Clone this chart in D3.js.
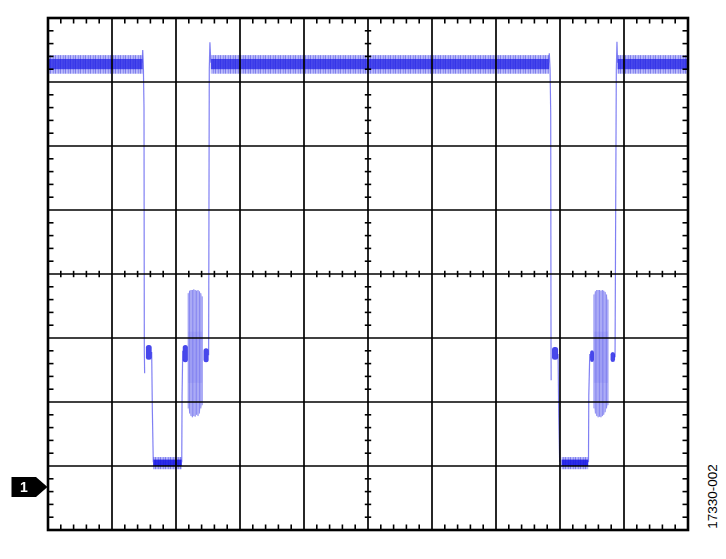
<!DOCTYPE html>
<html><head><meta charset="utf-8">
<script src="https://cdn.jsdelivr.net/npm/d3@7"></script>
<style>html,body{margin:0;padding:0;background:#fff}svg{display:block}</style>
</head><body>
<svg id="c" width="726" height="559"></svg>
<script>
// ---- screen (divisions) ----
const xDivs = [0,1,2,3,4,5,6,7,8,9,10];
const yDivs = [-4,-3,-2,-1,0,1,2,3,4];
const channelLabel = "1";
const groundLevel = -3.33;
const figureId = "17330-002";

// ---- waveform (time in div, voltage in div from centre) ----
const highSegments = [[0, 1.48], [2.545, 7.83], [8.9, 10]];
const highBand = [3.13, 3.2, 3.36, 3.42];       // outer lo, core lo, core hi, outer hi
const lowSegments = [[1.645, 2.09], [8.025, 8.44]];
const lowBand = [-3.05, -3.0, -2.9, -2.86];

// thin edge traces
const edgeTraces = [
  [[1.47,3.3],[1.48,3.5],[1.49,3.25],[1.5,2.6],[1.505,-1.2],[1.51,-1.55]],
  [[1.62,-1.22],[1.63,-2.1],[1.645,-2.94]],
  [[2.09,-2.94],[2.095,-1.9],[2.105,-1.2]],
  [[2.51,-1.27],[2.515,1.0],[2.52,3.2],[2.53,3.62],[2.545,3.3]],
  [[7.82,3.3],[7.833,3.45],[7.845,3.2],[7.855,2.5],[7.86,-1.2],[7.862,-1.66]],
  [[7.97,-1.25],[7.98,-2.2],[7.995,-2.94]],
  [[8.445,-2.94],[8.45,-1.9],[8.465,-1.25]],
  [[8.86,-1.3],[8.87,1.0],[8.88,3.2],[8.89,3.63],[8.9,3.3]]
];

// dense blobs at the intermediate level: [t0, t1, vLow, vHigh]
const midBlobs = [
  [1.53, 1.62, -1.34, -1.11],
  [2.105, 2.185, -1.38, -1.11],
  [2.43, 2.51, -1.38, -1.16],
  [7.875, 7.97, -1.34, -1.14],
  [8.47, 8.53, -1.375, -1.19],
  [8.79, 8.86, -1.375, -1.22]
];

// oscillation bursts: line positions, tops and bottoms
const burst1T   = [2.19, 2.212, 2.234, 2.256, 2.278, 2.3, 2.322, 2.344, 2.366, 2.388, 2.41];
const burst1Top = [-0.3, -0.26, -0.25, -0.25, -0.24, -0.25, -0.26, -0.25, -0.27, -0.3, -0.35];
const burst1Bot = [-2.1, -2.18, -2.22, -2.24, -2.22, -2.23, -2.2, -2.22, -2.18, -2.1, -2.05];
const burst2T   = [8.53, 8.552, 8.574, 8.596, 8.618, 8.64, 8.662, 8.684, 8.706, 8.728, 8.75];
const burst2Top = [-0.32, -0.27, -0.25, -0.25, -0.25, -0.26, -0.25, -0.26, -0.28, -0.32, -0.4];
const burst2Bot = [-2.1, -2.18, -2.22, -2.24, -2.23, -2.24, -2.22, -2.2, -2.16, -2.1, -2.05];

// ---- drawing ----
const svg = d3.select("#c");
const x = d3.scaleLinear().domain([0, 10]).range([48, 688]);
const y = d3.scaleLinear().domain([-4, 4]).range([530, 18]);
const blue = "#1c1ce6";

const defs = svg.append("defs");
defs.append("filter").attr("id","soft").attr("x","-5%").attr("y","-5%").attr("width","110%").attr("height","110%")
  .append("feGaussianBlur").attr("stdDeviation",0.55);
const pat = defs.append("pattern").attr("id","stripe").attr("patternUnits","userSpaceOnUse")
  .attr("width",5).attr("height",3);
pat.append("rect").attr("x",0).attr("y",0).attr("width",0.8).attr("height",3).attr("fill","#1010d8").attr("opacity",0.5);
pat.append("rect").attr("x",1.8).attr("y",0).attr("width",0.6).attr("height",3).attr("fill","#3030ff").attr("opacity",0.35);
pat.append("rect").attr("x",3.3).attr("y",0).attr("width",0.9).attr("height",3).attr("fill","#1818e0").attr("opacity",0.45);

const wave = svg.append("g").attr("filter","url(#soft)");

function band(segs, b, coreOp){
  const g = wave.append("g");
  segs.forEach(s=>{
    g.append("rect").attr("x",x(s[0])).attr("width",x(s[1])-x(s[0]))
      .attr("y",y(b[3])).attr("height",y(b[0])-y(b[3])).attr("fill","#8c8cf4").attr("opacity",0.5);
    g.append("rect").attr("x",x(s[0])).attr("width",x(s[1])-x(s[0]))
      .attr("y",y(b[3])).attr("height",y(b[0])-y(b[3])).attr("fill","url(#stripe)");
    g.append("rect").attr("x",x(s[0])).attr("width",x(s[1])-x(s[0]))
      .attr("y",y(b[2])).attr("height",y(b[1])-y(b[2])).attr("fill",blue).attr("opacity",coreOp);
  });
}
band(highSegments, highBand, 0.72);
band(lowSegments, lowBand, 0.9);

// bursts
function burst(ts, tops, bots){
  const g = wave.append("g");
  const area = d3.area().x(d=>x(d[0])).y0(d=>y(d[2])).y1(d=>y(d[1]));
  const pts = ts.map((t,i)=>[t, tops[i], bots[i]]);
  g.append("path").attr("d", area(pts)).attr("fill","#9090f2").attr("opacity",0.3);
  g.selectAll("line").data(pts).join("line")
    .attr("x1",d=>x(d[0])).attr("x2",d=>x(d[0]))
    .attr("y1",d=>y(d[1])).attr("y2",d=>y(d[2]))
    .attr("stroke","#3a3ae8").attr("stroke-width",0.9).attr("opacity",0.6);
  g.append("rect").attr("x",x(ts[0])).attr("width",x(ts[ts.length-1])-x(ts[0]))
    .attr("y",y(-0.9)).attr("height",y(-1.7)-y(-0.9)).attr("fill","#7070ee").attr("opacity",0.2);
}
burst(burst1T, burst1Top, burst1Bot);
burst(burst2T, burst2Top, burst2Bot);

// edges
const line = d3.line().x(d=>x(d[0])).y(d=>y(d[1]));
wave.selectAll("path.edge").data(edgeTraces).join("path").attr("class","edge")
  .attr("d", line).attr("fill","none").attr("stroke","#4a4aee").attr("stroke-width",1.2).attr("opacity",0.7);

// blobs
wave.selectAll("rect.blob").data(midBlobs).join("rect").attr("class","blob")
  .attr("x",d=>x(d[0])).attr("width",d=>x(d[1])-x(d[0]))
  .attr("y",d=>y(d[3])).attr("height",d=>y(d[2])-y(d[3]))
  .attr("rx",2.5).attr("fill",blue).attr("opacity",0.8);

// ---- grid ----
const grid = svg.append("g").attr("stroke","#000");
grid.selectAll("line.v").data(xDivs.slice(1,-1)).join("line").attr("class","v")
  .attr("x1",d=>x(d)).attr("x2",d=>x(d)).attr("y1",y(4)).attr("y2",y(-4)).attr("stroke-width",1.7);
grid.selectAll("line.h").data(yDivs.slice(1,-1)).join("line").attr("class","h")
  .attr("y1",d=>y(d)).attr("y2",d=>y(d)).attr("x1",x(0)).attr("x2",x(10)).attr("stroke-width",1.7);

const minorX = d3.range(0.2, 10, 0.2).filter(v=>Math.abs(v-Math.round(v))>0.01);
const minorY = d3.range(-3.8, 4, 0.2).filter(v=>Math.abs(v-Math.round(v))>0.01);
const tl = 5.5, tw = 1.6;
minorX.forEach(v=>{
  grid.append("line").attr("x1",x(v)).attr("x2",x(v)).attr("y1",y(4)).attr("y2",y(4)+tl).attr("stroke-width",tw);
  grid.append("line").attr("x1",x(v)).attr("x2",x(v)).attr("y1",y(-4)).attr("y2",y(-4)-tl).attr("stroke-width",tw);
  grid.append("line").attr("x1",x(v)).attr("x2",x(v)).attr("y1",y(0)-3.2).attr("y2",y(0)+3.2).attr("stroke-width",tw);
});
minorY.forEach(v=>{
  grid.append("line").attr("y1",y(v)).attr("y2",y(v)).attr("x1",x(0)).attr("x2",x(0)+tl).attr("stroke-width",tw);
  grid.append("line").attr("y1",y(v)).attr("y2",y(v)).attr("x1",x(10)).attr("x2",x(10)-tl).attr("stroke-width",tw);
  grid.append("line").attr("y1",y(v)).attr("y2",y(v)).attr("x1",x(5)-3.2).attr("x2",x(5)+3.2).attr("stroke-width",tw);
});
svg.append("rect").attr("x",x(0)).attr("y",y(4)).attr("width",x(10)-x(0)).attr("height",y(-4)-y(4))
  .attr("fill","none").attr("stroke","#000").attr("stroke-width",2.6);

// ---- channel marker ----
const gy = y(groundLevel);
svg.append("path").attr("d",`M11.5,${gy-10}L36,${gy-10}L47.5,${gy}L36,${gy+10}L11.5,${gy+10}Z`).attr("fill","#000");
svg.append("text").attr("x",24).attr("y",gy+5).attr("text-anchor","middle")
  .attr("font-family","Liberation Sans, Arial, sans-serif").attr("font-weight","bold").attr("font-size",14)
  .attr("fill","#fff").text(channelLabel);

// ---- figure id ----
svg.append("text").attr("transform","translate(716.5,496.5) rotate(-90)").attr("text-anchor","middle")
  .attr("font-family","Liberation Sans, Arial, sans-serif").attr("font-size",13.5).attr("fill","#000").text(figureId);
</script>
</body></html>
